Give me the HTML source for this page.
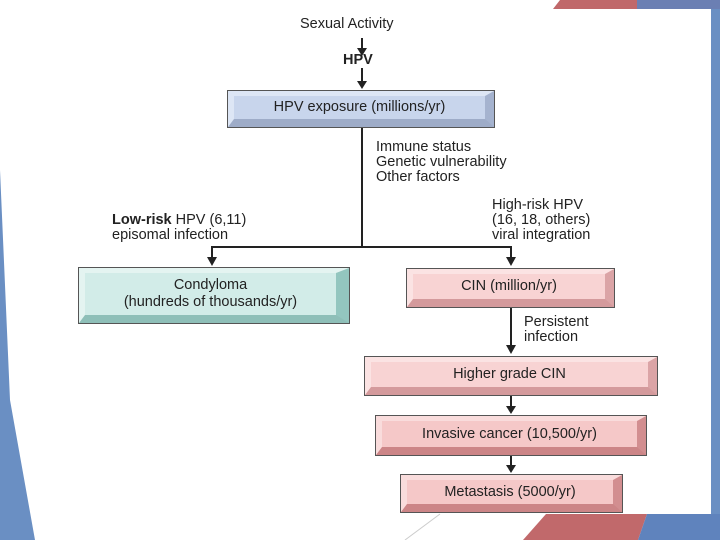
<!DOCTYPE html>
<html><head><meta charset="utf-8"><style>
body{margin:0;width:720px;height:540px;position:relative;overflow:hidden;background:#fff;font-family:"Liberation Sans",sans-serif;color:#222}
.b{position:absolute;box-sizing:border-box;outline:1px solid #555;display:flex;align-items:center;justify-content:center;text-align:center;font-size:14.5px;line-height:17px}
.pk{background:#f8d3d3;border-style:solid;border-width:5px 9px 8px 6px;border-color:#fbe3e3 #dba4a6 #d49a9c #fbe3e3}
.pk2{background:#f5c8c8;border-color:#f9dcdc #d28e90 #cc8587 #f9dcdc}
.t{position:absolute;font-size:14.5px;line-height:15px;white-space:nowrap}
</style></head><body>
<svg width="720" height="540" style="position:absolute;left:0;top:0">
<polygon points="553,9 560,0 637,0 637,9" fill="#c0686a"/>
<polygon points="637,0 720,0 720,9 637,9" fill="#6b7fb3"/>
<rect x="711" y="9" width="9" height="505" fill="#6a8fc3"/>
<polygon points="0,170 10,400 35,540 0,540" fill="#6a8fc3"/>
<polygon points="546,514 647,514 638,540 523,540" fill="#c1696b"/>
<polygon points="647,514 720,514 720,540 638,540" fill="#5f83bd"/>
<line x1="440" y1="514" x2="405" y2="540" stroke="#ccc" stroke-width="1"/>
<g stroke="#222" stroke-width="2" fill="none">
<line x1="362" y1="38" x2="362" y2="50"/>
<line x1="362" y1="68" x2="362" y2="83"/>
<line x1="362" y1="127" x2="362" y2="247"/>
<polyline points="212,258 212,247 511,247 511,258"/>
<line x1="511" y1="307" x2="511" y2="346"/>
<line x1="511" y1="395" x2="511" y2="408"/>
<line x1="511" y1="455" x2="511" y2="467"/>
</g>
<g fill="#222">
<polygon points="357,48 367,48 362,56"/>
<polygon points="357,81 367,81 362,89"/>
<polygon points="207,257 217,257 212,266"/>
<polygon points="506,257 516,257 511,266"/>
<polygon points="506,345 516,345 511,354"/>
<polygon points="506,406 516,406 511,414"/>
<polygon points="506,465 516,465 511,473"/>
</g>
</svg>
<div class="t" style="left:300px;top:17px">Sexual Activity</div>
<div class="t" style="left:343px;top:53px;font-weight:bold">HPV</div>
<div class="b" style="left:228px;top:91px;width:266px;height:36px;background:#c8d5ec;border-style:solid;border-width:5px 9px 8px 6px;border-color:#dde6f5 #a5b3cf #9eacc8 #dde6f5">HPV exposure (millions/yr)</div>
<div class="t" style="left:376px;top:140px">Immune status<br>Genetic vulnerability<br>Other factors</div>
<div class="t" style="left:112px;top:213px"><b>Low-risk</b> HPV (6,11)<br>episomal infection</div>
<div class="t" style="left:492px;top:198px">High-risk HPV<br>(16, 18, others)<br>viral integration</div>
<div class="b" style="left:79px;top:268px;width:270px;height:55px;background:#d2ece8;border-style:solid;border-width:5px 13px 8px 6px;border-color:#e4f4f1 #93c6bf #8ebfb8 #e4f4f1">Condyloma<br>(hundreds of thousands/yr)</div>
<div class="b pk" style="left:407px;top:269px;width:207px;height:38px">CIN (million/yr)</div>
<div class="t" style="left:524px;top:315px">Persistent<br>infection</div>
<div class="b pk" style="left:365px;top:357px;width:292px;height:38px">Higher grade CIN</div>
<div class="b pk pk2" style="left:376px;top:416px;width:270px;height:39px">Invasive cancer (10,500/yr)</div>
<div class="b pk pk2" style="left:401px;top:475px;width:221px;height:37px">Metastasis (5000/yr)</div>
</body></html>
